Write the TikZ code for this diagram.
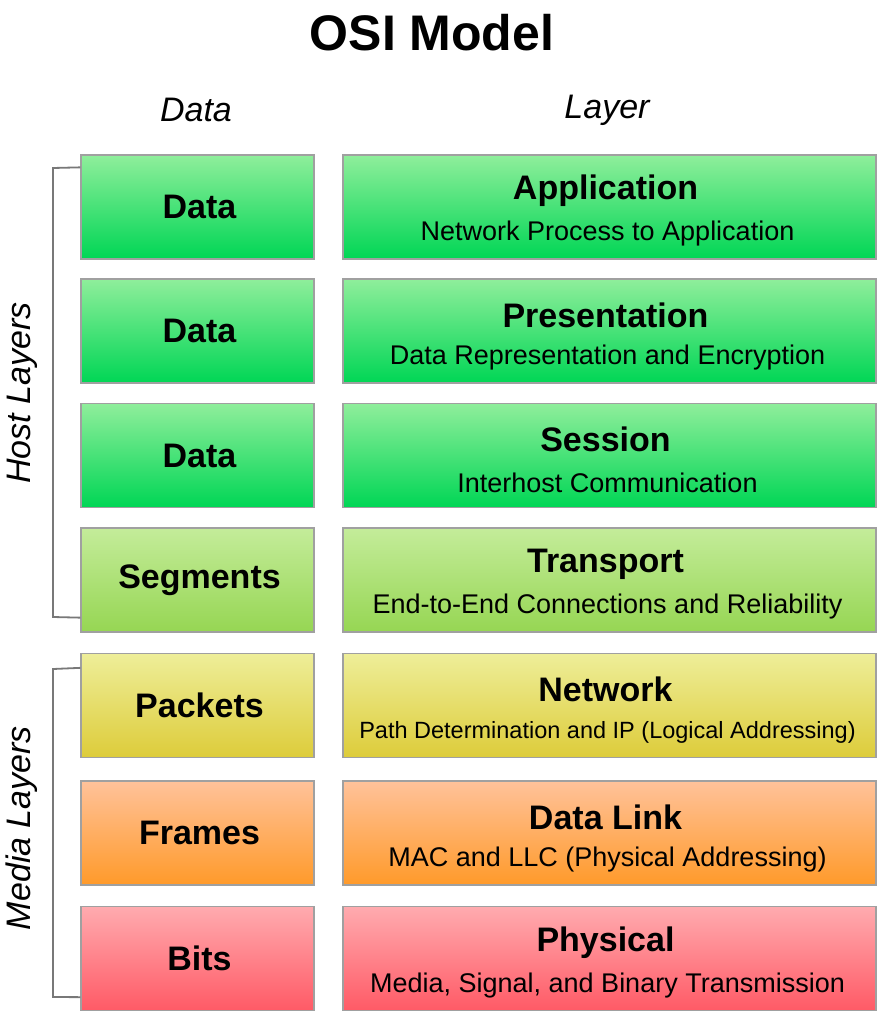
\documentclass[tikz,border=0pt]{standalone}
\usepackage{fontspec}
\setmainfont{Liberation Sans}
\definecolor{gtop}{RGB}{143,238,155}
\definecolor{gbot}{RGB}{0,214,85}
\definecolor{ttop}{RGB}{196,236,154}
\definecolor{tbot}{RGB}{150,214,83}
\definecolor{ytop}{RGB}{238,238,153}
\definecolor{ybot}{RGB}{221,204,58}
\definecolor{otop}{RGB}{255,194,154}
\definecolor{obot}{RGB}{255,154,42}
\definecolor{rtop}{RGB}{255,171,175}
\definecolor{rbot}{RGB}{255,90,102}
\definecolor{edge}{RGB}{160,160,160}
\definecolor{brk}{RGB}{120,120,120}
\tikzset{
  box/.style={draw=edge, line width=1.3pt, rectangle, inner sep=0pt, minimum height=104pt},
  lbox/.style={box, minimum width=233pt},
  rbox/.style={box, minimum width=533pt},
  green/.style={top color=gtop, bottom color=gbot},
  tgreen/.style={top color=ttop, bottom color=tbot},
  yel/.style={top color=ytop, bottom color=ybot},
  ora/.style={top color=otop, bottom color=obot},
  redc/.style={top color=rtop, bottom color=rbot},
  big/.style={font=\fontsize{34}{38}\selectfont\bfseries},
  sub/.style={font=\fontsize{27}{30}\selectfont},
  hdr/.style={font=\fontsize{34}{38}\selectfont\itshape},
  brace/.style={draw=brk, line width=1.8pt},
}
\begin{document}
\begin{tikzpicture}[x=1pt,y=-1pt]
\useasboundingbox (0,0) rectangle (894,1024);
\node[font=\fontsize{50}{56}\selectfont\bfseries] (title) at (432,33) {OSI Model};
\node[hdr] (hd) at (196,110) {Data};
\node[hdr] (hl) at (607,110) {Layer};

% left boxes
\node[lbox,green] (d1) at (197.5,207) {};
\node[lbox,green] (d2) at (197.5,331) {};
\node[lbox,green] (d3) at (197.5,455.5) {};
\node[lbox,tgreen] (d4) at (197.5,580) {};
\node[lbox,yel] (d5) at (197.5,705.5) {};
\node[lbox,ora] (d6) at (197.5,833) {};
\node[lbox,redc] (d7) at (197.5,958.5) {};
\node[big] (d1t) at ([xshift=2pt]d1.center) {Data};
\node[big] (d2t) at ([xshift=2pt]d2.center) {Data};
\node[big] (d3t) at ([xshift=2pt]d3.center) {Data};
\node[big] (d4t) at ([xshift=2pt]d4.center) {Segments};
\node[big] (d5t) at ([xshift=2pt]d5.center) {Packets};
\node[big] (d6t) at ([xshift=2pt]d6.center) {Frames};
\node[big] (d7t) at ([xshift=2pt]d7.center) {Bits};

% right boxes
\node[rbox,green] (l1) at (609.5,207) {};
\node[rbox,green] (l2) at (609.5,331) {};
\node[rbox,green] (l3) at (609.5,455.5) {};
\node[rbox,tgreen] (l4) at (609.5,580) {};
\node[rbox,yel] (l5) at (609.5,705.5) {};
\node[rbox,ora] (l6) at (609.5,833) {};
\node[rbox,redc] (l7) at (609.5,958.5) {};

\tikzset{ta/.style={big}, tb/.style={sub}}
\node[ta] (l1a) at ([xshift=-4pt,yshift=16pt]l1.center) {Application};
\node[tb] (l1b) at ([xshift=-2pt,yshift=-27pt]l1.center) {Network Process to Application};
\node[ta] (l2a) at ([xshift=-4pt,yshift=16pt]l2.center) {Presentation};
\node[tb] (l2b) at ([xshift=-2pt,yshift=-27pt]l2.center) {Data Representation and Encryption};
\node[ta] (l3a) at ([xshift=-4pt,yshift=16pt]l3.center) {Session};
\node[tb] (l3b) at ([xshift=-2pt,yshift=-27pt]l3.center) {Interhost Communication};
\node[ta] (l4a) at ([xshift=-4pt,yshift=16pt]l4.center) {Transport};
\node[tb] (l4b) at ([xshift=-2pt,yshift=-27pt]l4.center) {End-to-End Connections and Reliability};
\node[ta] (l5a) at ([xshift=-4pt,yshift=16pt]l5.center) {Network};
\node[font=\fontsize{23.5}{26}\selectfont] (l5b) at ([xshift=-2pt,yshift=-27pt]l5.center) {Path Determination and IP (Logical Addressing)};
\node[ta] (l6a) at ([xshift=-4pt,yshift=16pt]l6.center) {Data Link};
\node[tb] (l6b) at ([xshift=-2pt,yshift=-27pt]l6.center) {MAC and LLC (Physical Addressing)};
\node[ta] (l7a) at ([xshift=-4pt,yshift=16pt]l7.center) {Physical};
\node[tb] (l7b) at ([xshift=-2pt,yshift=-27pt]l7.center) {Media, Signal, and Binary Transmission};

% brackets
\coordinate (h1) at (53,168);
\coordinate (h2) at (53,617);
\coordinate (m1) at (53,669);
\coordinate (m2) at (53,997);
\draw[brace] ([yshift=-13pt]d1.north west) -- (h1) -- (h2) -- ([yshift=15pt]d4.south west);
\draw[brace] ([yshift=-15pt]d5.north west) -- (m1) -- (m2) -- ([yshift=14pt]d7.south west);
\node[hdr, rotate=90] (host) at (22,393) {Host Layers};
\node[hdr, rotate=90] (media) at (22,828) {Media Layers};
\end{tikzpicture}
\end{document}
